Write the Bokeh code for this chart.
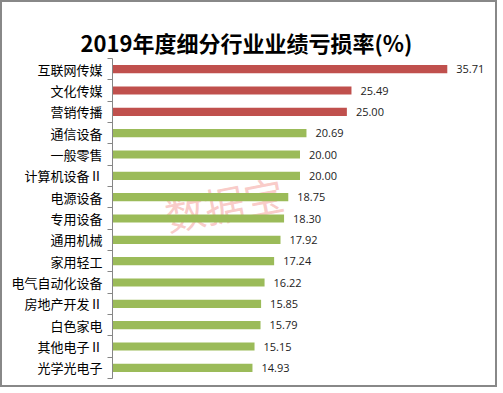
from bokeh.plotting import figure
from bokeh.models import Range1d, FixedTicker, Label, Title, ColumnDataSource
from bokeh.core.properties import value
from bokeh.embed import file_html
from bokeh.resources import INLINE

categories = ["互联网传媒", "文化传媒", "营销传播", "通信设备", "一般零售", "计算机设备Ⅱ",
              "电源设备", "专用设备", "通用机械", "家用轻工", "电气自动化设备", "房地产开发Ⅱ",
              "白色家电", "其他电子Ⅱ", "光学光电子"]
loss_rate = [35.71, 25.49, 25.00, 20.69, 20.00, 20.00, 18.75, 18.30, 17.92, 17.24,
             16.22, 15.85, 15.79, 15.15, 14.93]
highlight_count = 3
title_text = "2019年度细分行业业绩亏损率(%)"
watermark = "数据宝"

RED = "#C0504D"
GREEN = "#9BBB59"
n = len(categories)
idx = list(range(n))
colors = [RED if i < highlight_count else GREEN for i in idx]
labels = [f"{v:.2f}" for v in loss_rate]

src = ColumnDataSource(dict(y=idx, v=loss_rate, c=colors, lab=labels))

W, H = 497, 387
p = figure(width=W, height=H, output_backend="svg", toolbar_location=None,
           x_range=Range1d(0, 40), y_range=Range1d(n - 0.5, -0.5),
           min_border_left=110, min_border_right=12, min_border_top=56, min_border_bottom=11)
p.title = None

p.outline_line_color = None
p.xgrid.grid_line_color = None
p.ygrid.grid_line_color = None
p.xaxis.visible = False
p.background_fill_color = "white"
p.border_fill_color = "white"
p.styles = {"border": "2px solid #888888", "box-sizing": "border-box"}

ttl = Title(text=title_text, align="left", offset=-32, standoff=2,
            text_font="Noto Sans CJK SC", text_font_size="22px", text_font_style="bold",
            text_color="#000000")
p.add_layout(ttl, "above")
# thin invisible spacer between the frame and the title, to lift the title up
spacer = Title(text=" ", standoff=17, text_font_size="1px", text_alpha=0)
p.add_layout(spacer, "above")

yax = p.yaxis[0]
yax.ticker = FixedTicker(ticks=idx, minor_ticks=[i - 0.5 for i in range(n + 1)])
yax.major_label_overrides = {i: c for i, c in zip(idx, categories)}
yax.major_tick_in = 0
yax.major_tick_out = 0
yax.minor_tick_in = 0
yax.minor_tick_out = 5
yax.minor_tick_line_color = "#868686"
yax.axis_line_color = "#868686"
yax.major_label_standoff = 5
yax.major_label_text_font = "Noto Sans CJK SC"
yax.major_label_text_font_size = "13px"
yax.major_label_text_color = "#000000"

wm = Label(x=11.9, y=6.3, text=watermark, angle=11, angle_units="deg",
           text_font="Noto Sans CJK SC", text_font_size="40px", text_color="#F4A09A",
           text_alpha=0.55, text_align="center", text_baseline="middle", level="underlay")
p.add_layout(wm)

p.hbar(y="y", right="v", left=0, height=0.38, fill_color="c", line_color=None, source=src)
p.text(x="v", y="y", text="lab", x_offset=9, text_baseline="middle", text_align="left",
       text_font=value("Open Sans"), text_font_size="11px", text_color="#222222", source=src)

open("out.html", "w").write(file_html(p, INLINE))
